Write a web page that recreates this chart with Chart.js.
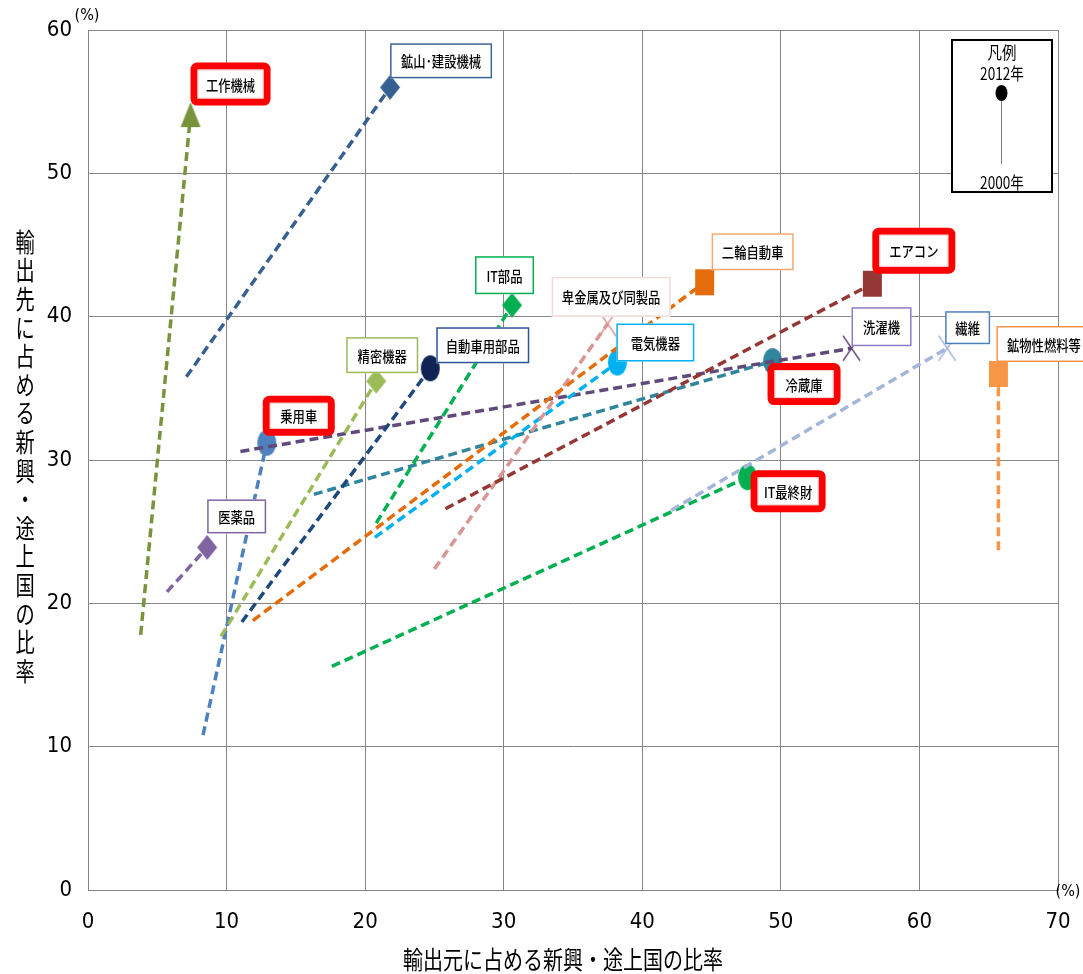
<!DOCTYPE html>
<html><head><meta charset="utf-8">
<script src="https://cdn.jsdelivr.net/npm/chart.js@4"></script>
<style>html,body{margin:0;padding:0;background:#fff;} #wrap{width:1083px;height:974px;position:relative;}</style>
</head><body><div id="wrap"><canvas id="c" width="1083" height="974"></canvas></div>
<script>
// ---- data ----
const categories = ['工作機械','鉱山･建設機械','IT部品','二輪自動車','エアコン','卑金属及び同製品','電気機器','自動車用部品','精密機器','洗濯機','冷蔵庫','繊維','鉱物性燃料等','乗用車','医薬品','IT最終財'];
const x2000 = [3.8, 7.1, 20.8, 11.9, 25.8, 25.0, 20.7, 11.1, 9.6, 11.0, 16.3, 42.1, 65.7, 8.3, 5.7, 17.6];
const y2000 = [17.8, 35.8, 25.6, 18.8, 26.6, 22.4, 24.6, 18.7, 17.7, 30.6, 27.6, 26.5, 23.7, 10.8, 20.8, 15.6];
const x2012 = [7.4, 21.8, 30.6, 44.5, 56.6, 37.5, 38.2, 24.7, 20.8, 55.1, 49.4, 62.0, 65.7, 12.9, 8.6, 47.6];
const y2012 = [54.1, 56.0, 40.8, 42.4, 42.3, 39.5, 36.8, 36.4, 35.5, 37.8, 36.9, 37.8, 36.0, 31.2, 23.9, 28.8];
const xTicks = [0,10,20,30,40,50,60,70];
const yTicks = [0,10,20,30,40,50,60];
const xTitle = '輸出元に占める新興・途上国の比率';
const yTitle = '輸出先に占める新興・途上国の比率';
const legendTexts = ['凡例','2012年','2000年'];

// ---- styles ----
const lineColors = ['#77933C','#376092','#00B050','#E46C0A','#953735','#D99694','#00B0F0','#1F497D','#9BBB59','#604A7B','#31859C','#A3B5D9','#F79646','#4F81BD','#8064A2','#00B050'];
const markerColors = ['#77933C','#376092','#00B050','#E46C0A','#953735','#D99694','#00B0F0','#0F2453','#9BBB59','#604A7B','#31859C','#A3B5D9','#F79646','#4F81BD','#8064A2','#00B050'];
const markerShapes = ['triangle','diamond','diamond','square','square','cross','ellipse','ellipse','diamond','cross','ellipse','cross','square','ellipse','diamond','ellipse'];
const labelBorder = ['red','#3D6399','#00B050','#F9A870','red','#F2DCDB','#00B0F0','#2E5597','#9BBB59','#8E7CC3','red','#4F81BD','#F79646','red','#8064A2','red'];
// [dx, dy, w, h] from the 2012 point, in pixels
const labelBox = [[0,-52,80,43],[0,-44,102,35],[-37,-49,59,38],[7,-49,82,37],[0,-56,83,46],[-56,-47,119,40],[-1,-39,78,38],[6,-41,93,36],[-30,-44,72,36],[0,-41,60,39],[-5,2,73,42],[-2,-37,45,33],[-2,-48,95,36],[-4,-47,72,40],[0,-48,59,34],[3,-7,75,42]];

const JP = "'Noto Sans CJK JP', 'Noto Sans', sans-serif";
const NARROW = "'Liberation Sans Narrow', 'Arial Narrow', 'DejaVu Sans Condensed', 'Liberation Sans', sans-serif";

function makeMarker(shape, color) {
  let w = 19, h = 26;
  if (shape === 'square') { w = 19; h = 26; }
  if (shape === 'triangle') { w = 20; h = 25; }
  if (shape === 'diamond') { w = 20; h = 25; }
  if (shape === 'cross') { w = 17; h = 25; }
  const c = document.createElement('canvas');
  c.width = w + 4; c.height = h + 4;
  const g = c.getContext('2d');
  g.translate(2, 2);
  g.fillStyle = color; g.strokeStyle = color;
  g.beginPath();
  if (shape === 'ellipse') { g.ellipse(w/2, h/2, w/2, h/2, 0, 0, Math.PI*2); g.fill(); }
  else if (shape === 'square') { g.rect(0, 0, w, h); g.fill(); }
  else if (shape === 'diamond') { g.moveTo(w/2,0); g.lineTo(w,h/2); g.lineTo(w/2,h); g.lineTo(0,h/2); g.closePath(); g.fill(); }
  else if (shape === 'triangle') { g.moveTo(w/2,0); g.lineTo(w,h); g.lineTo(0,h); g.closePath(); g.fill(); }
  else if (shape === 'cross') { g.lineWidth = 1.4; g.moveTo(0,0); g.lineTo(w,h); g.moveTo(w,0); g.lineTo(0,h); g.stroke(); }
  return c;
}

function scaledText(ctx, text, x, y, font, sx, align, color) {
  ctx.save();
  ctx.translate(x, y);
  ctx.scale(sx, 1);
  ctx.font = font;
  ctx.textAlign = align || 'center';
  ctx.textBaseline = 'middle';
  ctx.fillStyle = color || '#000';
  ctx.fillText(text, 0, 0);
  ctx.restore();
}

const datasets = categories.map((name, i) => ({
  label: name,
  data: [{x: x2000[i], y: y2000[i]}, {x: x2012[i], y: y2012[i]}],
  showLine: true,
  borderColor: lineColors[i],
  backgroundColor: markerColors[i],
  borderWidth: 3.5,
  borderDash: [9, 5],
  borderCapStyle: 'butt',
  pointRadius: [0, 10],
  pointHoverRadius: [0, 10],
  pointStyle: ['circle', makeMarker(markerShapes[i], markerColors[i])],
  clip: false
}));

const decor = {
  id: 'decor',
  afterDatasetsDraw(chart) {
    const ctx = chart.ctx;
    // labels
    chart.data.datasets.forEach((ds, i) => {
      const pt = chart.getDatasetMeta(i).data[1];
      const [dx, dy, w, h] = labelBox[i];
      const bx = pt.x + dx, by = pt.y + dy;
      ctx.save();
      if (labelBorder[i] === 'red') {
        ctx.fillStyle = '#fff';
        ctx.fillRect(bx + 3, by + 3, w - 6, h - 6);
        ctx.strokeStyle = '#FF0000';
        ctx.lineWidth = 7;
        ctx.beginPath();
        ctx.roundRect(bx + 3.5, by + 3.5, w - 7, h - 7, 3);
        ctx.stroke();
        ctx.strokeStyle = '#F2D0D0';
        ctx.lineWidth = 1;
        ctx.strokeRect(bx + 7.5, by + 7.5, w - 15, h - 15);
      } else {
        ctx.fillStyle = '#fff';
        ctx.fillRect(bx, by, w, h);
        ctx.strokeStyle = labelBorder[i];
        ctx.lineWidth = 1.5;
        ctx.strokeRect(bx + 0.75, by + 0.75, w - 1.5, h - 1.5);
      }
      ctx.restore();
      scaledText(ctx, ds.label, bx + w/2, by + h/2 + 1, '500 14.5px ' + JP, 0.85, 'center', '#000');
    });

    // legend box
    ctx.save();
    ctx.strokeStyle = '#000';
    ctx.lineWidth = 2;
    ctx.fillStyle = '#fff';
    ctx.fillRect(952, 40, 100, 152);
    ctx.strokeRect(952, 40, 100, 152);
    ctx.strokeStyle = '#7F7F7F';
    ctx.lineWidth = 1;
    ctx.beginPath(); ctx.moveTo(1001.5, 93); ctx.lineTo(1001.5, 164); ctx.stroke();
    ctx.fillStyle = '#000';
    ctx.beginPath(); ctx.ellipse(1001.5, 93, 6, 8, 0, 0, Math.PI*2); ctx.fill();
    ctx.restore();
    scaledText(ctx, legendTexts[0], 1002, 53, '17px ' + JP, 0.85, 'center');
    scaledText(ctx, legendTexts[1], 1002, 74, '17px ' + JP, 0.8, 'center');
    scaledText(ctx, legendTexts[2], 1002, 183, '17px ' + JP, 0.8, 'center');

    // axis titles
    scaledText(ctx, xTitle, 563, 959, '25px ' + JP, 0.8, 'center');
    const chars = Array.from(yTitle);
    chars.forEach((ch, k) => {
      scaledText(ctx, ch, 25, 242 + k * 28.6, '26px ' + JP, 0.74, 'center');
    });
    // unit marks
    scaledText(ctx, '(%)', 87, 16, '16px ' + NARROW, 1, 'center');
    scaledText(ctx, '(%)', 1068, 892, '16px ' + NARROW, 1, 'center');
  }
};

new Chart(document.getElementById('c'), {
  type: 'scatter',
  data: { datasets },
  options: {
    responsive: false,
    animation: false,
    events: [],
    layout: { padding: { top: 30, right: 25, left: 0, bottom: 0 } },
    plugins: { legend: { display: false }, tooltip: { enabled: false } },
    scales: {
      x: {
        type: 'linear', min: 0, max: 70,
        afterBuildTicks(scale) { scale.ticks = xTicks.map(v => ({value: v})); },
        afterFit(scale) { scale.height = 84; scale.paddingLeft = 0; scale.paddingRight = 0; },
        grid: { color: '#868686', lineWidth: 1, drawTicks: false },
        border: { color: '#868686', width: 1 },
        ticks: { padding: 19, color: '#000', font: { family: NARROW, size: 22 }, maxRotation: 0 }
      },
      y: {
        type: 'linear', min: 0, max: 60,
        afterBuildTicks(scale) { scale.ticks = yTicks.map(v => ({value: v})); },
        afterFit(scale) { scale.width = 88; scale.paddingTop = 0; scale.paddingBottom = 0; },
        grid: { color: '#868686', lineWidth: 1, drawTicks: false },
        border: { color: '#868686', width: 1 },
        ticks: { padding: 16, color: '#000', font: { family: NARROW, size: 22 } }
      }
    }
  },
  plugins: [decor]
});
</script>
</body></html>
